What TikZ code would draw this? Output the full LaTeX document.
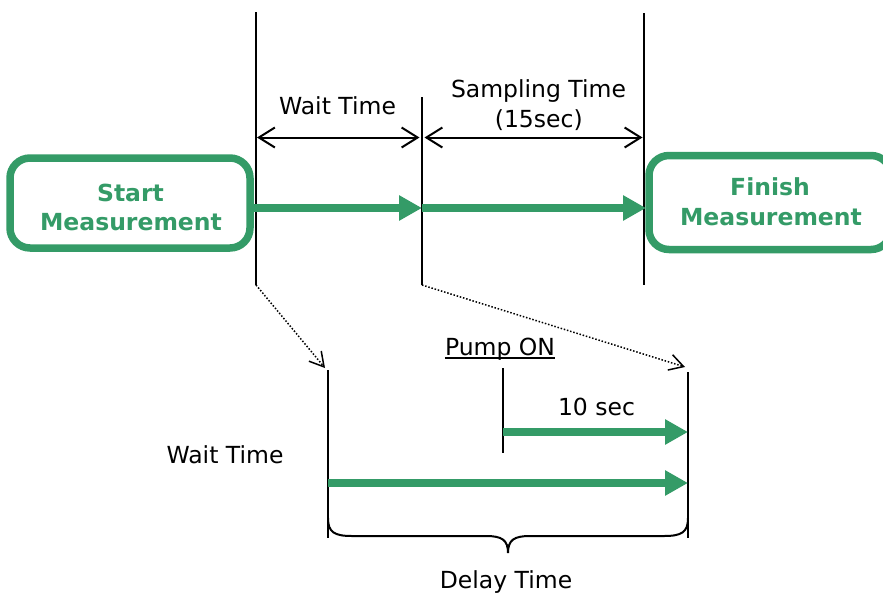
\documentclass[tikz,border=0pt]{standalone}
\usepackage{fontspec}
\setmainfont{DejaVu Sans}
\usetikzlibrary{arrows.meta,calc}
\definecolor{grn}{RGB}{52,155,103}
\begin{document}
\begin{tikzpicture}[x=1pt,y=-1pt,
  txt/.style={font=\fontsize{23.5}{28}\selectfont, anchor=base, inner sep=0pt},
  btxt/.style={font=\fontsize{23.5}{28}\selectfont\bfseries, text=grn, anchor=base, inner sep=0pt},
  box/.style={draw=grn, line width=7.5pt, rounded corners=20pt, inner sep=0pt, outer sep=0pt},
  vline/.style={line width=2.2pt},
  dimarrow/.style={line width=2pt, {Straight Barb[length=16pt,width=20pt]}-{Straight Barb[length=16pt,width=20pt]}},
  garrow/.style={draw=grn, line width=8pt, -{Triangle[length=23pt,width=24pt]}},
  dotarrow/.style={line width=1.5pt, dash pattern=on 1.5pt off 1.8pt, -{Straight Barb[length=14pt,width=16pt]}}]
\clip (0,0) rectangle (883,592);
\useasboundingbox (0,0) rectangle (883,592);
% boxes
\node[box, minimum width=240pt, minimum height=90pt] (start) at (130,203) {};
\node[box, minimum width=242pt, minimum height=94pt] (finish) at (770,202.5) {};
\node[btxt] (startA) at (130.5,201) {Start};
\node[btxt] (startB) at (131,230) {Measurement};
\node[btxt] (finA) at (770,195) {Finish};
\node[btxt] (finB) at (771,225) {Measurement};
% vertical lines
\coordinate (aT) at (256,12);  \coordinate (aB) at (256,285);
\coordinate (bT) at (422,97);  \coordinate (bB) at (422,285);
\coordinate (cT) at (644,13);  \coordinate (cB) at (644,285);
\coordinate (dT) at (328,370); \coordinate (dB) at (328,538);
\coordinate (eT) at (688,372); \coordinate (eB) at (688,538);
\coordinate (pT) at (503,368); \coordinate (pB) at (503,453);
\draw[vline] (aT) -- (aB);
\draw[vline] (bT) -- (bB);
\draw[vline] (cT) -- (cB);
\draw[vline] (dT) -- (dB);
\draw[vline] (eT) -- (eB);
\draw[vline] (pT) -- (pB);
% dimension arrows
\coordinate (w1) at (257,137.5); \coordinate (w2) at (419.5,137.5);
\coordinate (s1) at (424.5,137.5); \coordinate (s2) at (642.5,137.5);
\draw[dimarrow] (w1) -- (w2);
\draw[dimarrow] (s1) -- (s2);
\node[txt] (wt) at (337.5,114.5) {Wait Time};
\node[txt] (st) at (538.5,97) {Sampling Time};
\node[txt] (st2) at (538.8,127) {(15sec)};
% green arrows top
\coordinate (g1) at (254,208); \coordinate (g2) at (422,208); \coordinate (g3) at (646,208);
\draw[garrow] (g1) -- (g2);
\draw[garrow] (g2) -- (g3);
% dotted arrows
\coordinate (t1) at (325,368); \coordinate (t2) at (685,367);
\draw[dotarrow] (aB) -- (t1);
\draw[dotarrow] (bB) -- (t2);
% lower
\node[txt] (pump) at (500,355.5) {Pump ON};
\draw[line width=1.6pt] ($(pump.base west)+(0,2.5)$) -- ($(pump.base east)+(0,2.5)$);
\node[txt] (ten) at (596.5,415.7) {10 sec};
\node[txt] (wt2) at (225,463) {Wait Time};
\coordinate (h1) at (503,432); \coordinate (h2) at (688,432);
\coordinate (k1) at (328,483); \coordinate (k2) at (688,483);
\draw[garrow] (h1) -- (h2);
\draw[garrow] (k1) -- (k2);
% brace
\draw[line width=2pt] (328,518) .. controls (328,532) and (334,536) .. (352,536)
  -- (486,536) .. controls (502,536) and (508,540) .. (508,553)
  .. controls (508,540) and (514,536) .. (530,536)
  -- (664,536) .. controls (682,536) and (688,532) .. (688,518);
\node[txt] (delay) at (506,588) {Delay Time};
\end{tikzpicture}
\end{document}
